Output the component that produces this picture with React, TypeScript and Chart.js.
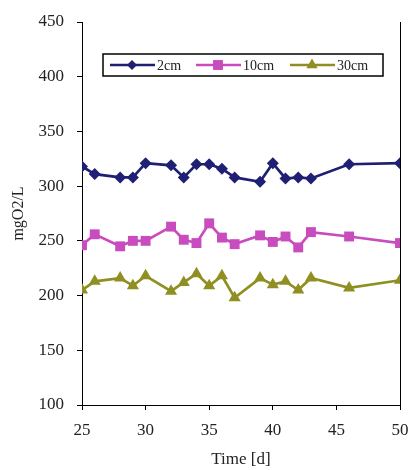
import React, { useEffect, useRef } from "react";
import { Chart, registerables } from "chart.js";

Chart.register(...registerables);

const days = [25, 26, 28, 29, 30, 32, 33, 34, 35, 36, 37, 39, 40, 41, 42, 43, 46, 50];
const series2cm = [318, 311, 308, 308, 321, 319, 308, 320, 320, 316, 308, 304, 321, 307, 308, 307, 320, 321];
const series10cm = [246, 256, 245, 250, 250, 263, 251, 248, 266, 253, 247, 255, 249, 254, 244, 258, 254, 248];
const series30cm = [205, 213, 216, 209, 218, 204, 212, 220, 209, 218, 198, 216, 210, 213, 205, 216, 207, 214];
const seriesLabels = ["2cm", "10cm", "30cm"];
const xTitle = "Time [d]";
const yTitle = "mgO2/L";

const BLUE = "#1f1f73";
const PINK = "#c84cbe";
const OLIVE = "#8f8f22";
const FONT = "'Liberation Serif', 'Times New Roman', serif";

function drawMarker(ctx: CanvasRenderingContext2D, style: string, x: number, y: number, r: number) {
  ctx.beginPath();
  if (style === "rectRot") {
    ctx.moveTo(x, y - r);
    ctx.lineTo(x + r, y);
    ctx.lineTo(x, y + r);
    ctx.lineTo(x - r, y);
  } else if (style === "rect") {
    const s = r * Math.SQRT1_2;
    ctx.rect(x - s, y - s, 2 * s, 2 * s);
  } else {
    ctx.moveTo(x, y - r);
    ctx.lineTo(x + r * 0.866, y + r * 0.5);
    ctx.lineTo(x - r * 0.866, y + r * 0.5);
  }
  ctx.closePath();
  ctx.fill();
}

const frameAndLegend = {
  id: "frameAndLegend",
  afterDraw(chart: any) {
    const { ctx, chartArea } = chart;
    ctx.save();
    // right border of plot
    ctx.strokeStyle = "#000";
    ctx.lineWidth = 1;
    ctx.beginPath();
    ctx.moveTo(chartArea.right + 0.5, chartArea.top);
    ctx.lineTo(chartArea.right + 0.5, chartArea.bottom);
    ctx.stroke();

    // legend box
    const bx = chartArea.left + 21;
    const by = chartArea.top + 32;
    const bw = 280;
    const bh = 22;
    ctx.fillStyle = "#fff";
    ctx.fillRect(bx, by, bw, bh);
    ctx.lineWidth = 1.5;
    ctx.strokeRect(bx, by, bw, bh);

    const items = [
      { label: seriesLabels[0], color: BLUE, style: "rectRot", r: 5, x0: bx + 7 },
      { label: seriesLabels[1], color: PINK, style: "rect", r: 7, x0: bx + 93 },
      { label: seriesLabels[2], color: OLIVE, style: "triangle", r: 6.5, x0: bx + 187 },
    ];
    const cy = by + bh / 2;
    ctx.font = "14px " + FONT;
    ctx.textBaseline = "middle";
    ctx.textAlign = "left";
    items.forEach((it) => {
      ctx.strokeStyle = it.color;
      ctx.lineWidth = 2.5;
      ctx.beginPath();
      ctx.moveTo(it.x0, cy);
      ctx.lineTo(it.x0 + 45, cy);
      ctx.stroke();
      ctx.fillStyle = it.color;
      drawMarker(ctx, it.style, it.x0 + 22, cy, it.r);
      ctx.fillStyle = "#222";
      ctx.fillText(it.label, it.x0 + 47, cy + 1);
    });
    ctx.restore();
  },
};

export default function App() {
  const canvasRef = useRef<HTMLCanvasElement | null>(null);

  useEffect(() => {
    const canvas = canvasRef.current;
    if (!canvas) return;
    const mk = (arr: number[]) => days.map((d, i) => ({ x: d, y: arr[i] }));
    const chart = new Chart(canvas, {
      type: "line",
      data: {
        datasets: [
          {
            label: seriesLabels[0],
            data: mk(series2cm),
            borderColor: BLUE,
            backgroundColor: BLUE,
            borderWidth: 2.7,
            pointStyle: "rectRot",
            pointRadius: 6,
            pointBorderWidth: 0,
            tension: 0,
          },
          {
            label: seriesLabels[1],
            data: mk(series10cm),
            borderColor: PINK,
            backgroundColor: PINK,
            borderWidth: 2.7,
            pointStyle: "rect",
            pointRadius: 7,
            pointBorderWidth: 0,
            tension: 0,
          },
          {
            label: seriesLabels[2],
            data: mk(series30cm),
            borderColor: OLIVE,
            backgroundColor: OLIVE,
            borderWidth: 2.7,
            pointStyle: "triangle",
            pointRadius: 7,
            pointBorderWidth: 0,
            tension: 0,
          },
        ],
      },
      options: {
        responsive: false,
        animation: false,
        layout: { padding: { top: 22, right: 9, left: 0, bottom: 0 } },
        plugins: {
          legend: { display: false },
          tooltip: { enabled: false },
        },
        scales: {
          x: {
            type: "linear",
            min: 25,
            max: 50,
            ticks: {
              stepSize: 5,
              color: "#222",
              font: { family: FONT, size: 17 },
              padding: 10,
            },
            grid: { drawOnChartArea: false, drawTicks: true, tickLength: 5, color: "#000" },
            border: { display: true, color: "#000", width: 1 },
            title: {
              display: true,
              text: xTitle,
              color: "#222",
              font: { family: FONT, size: 17 },
              padding: { top: 0, bottom: 0 },
            },
            afterFit: (scale: any) => {
              scale.height = 65;
              scale.paddingLeft = 0;
              scale.paddingRight = 0;
            },
          },
          y: {
            min: 100,
            max: 450,
            ticks: {
              stepSize: 50,
              color: "#222",
              font: { family: FONT, size: 17 },
              padding: 13,
            },
            grid: { drawOnChartArea: false, drawTicks: true, tickLength: 5, color: "#000" },
            border: { display: true, color: "#000", width: 1 },
            title: {
              display: true,
              text: yTitle,
              color: "#222",
              font: { family: FONT, size: 16 },
              padding: { top: 9, bottom: 0 },
            },
            afterFit: (scale: any) => {
              scale.width = 82;
              scale.paddingTop = 0;
              scale.paddingBottom = 0;
            },
          },
        },
      },
      plugins: [frameAndLegend],
    });
    return () => chart.destroy();
  }, []);

  return (
    <div style={{ position: "absolute", left: 0, top: 0, width: 409, height: 470, background: "#fff" }}>
      <canvas ref={canvasRef} width={409} height={470} style={{ display: "block", width: 409, height: 470 }} />
    </div>
  );
}
